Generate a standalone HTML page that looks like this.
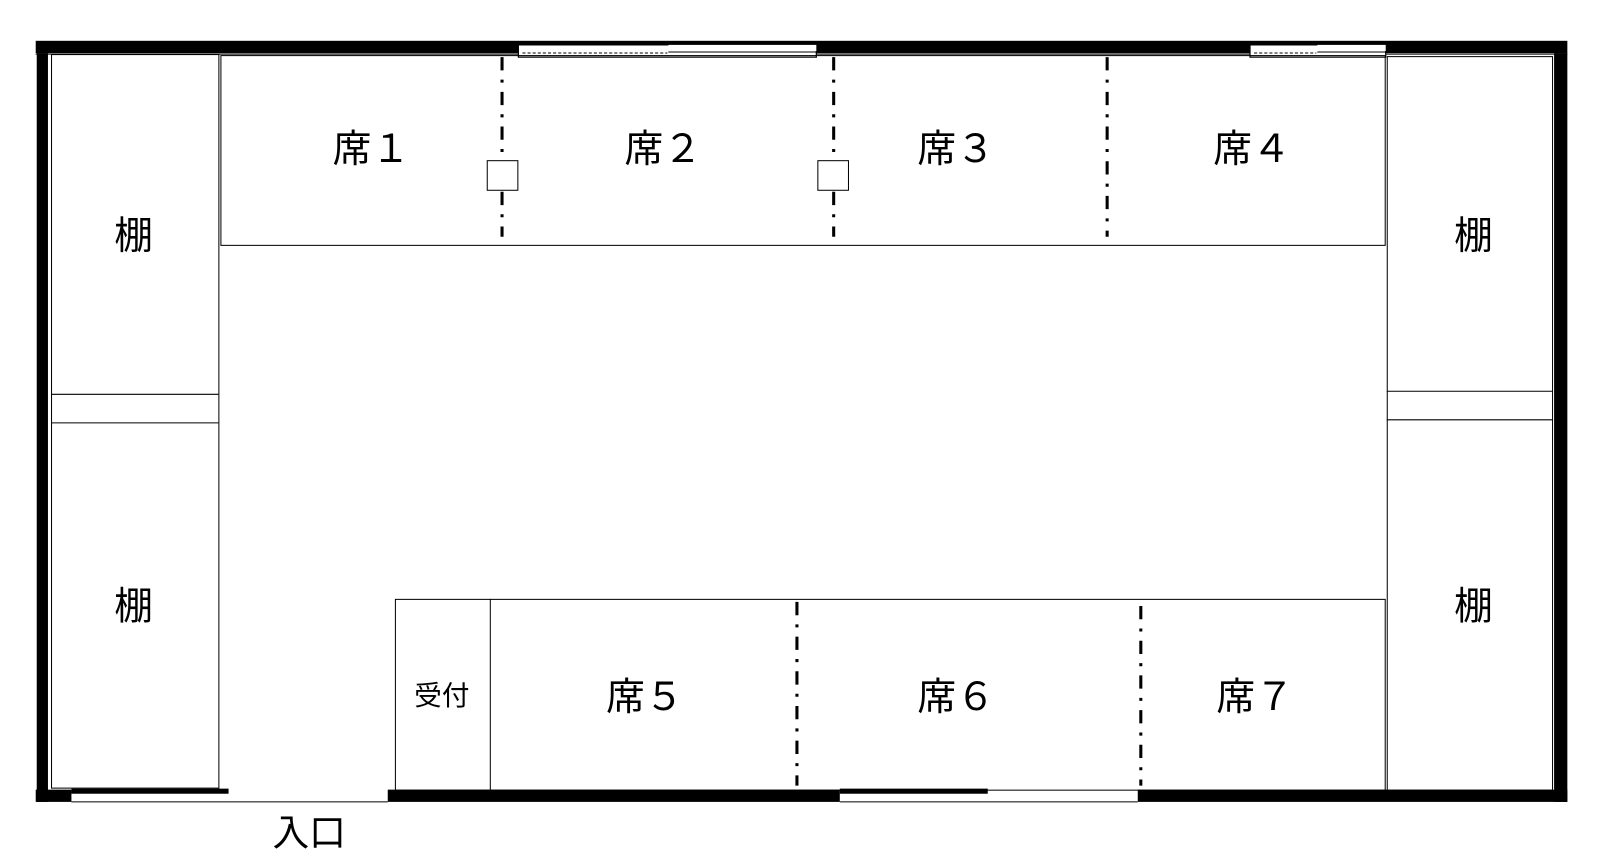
<!DOCTYPE html>
<html><head><meta charset="utf-8"><style>
html,body{margin:0;padding:0;background:#fff;}
svg{display:block;}
text{font-family:"Liberation Sans","Noto Sans CJK JP",sans-serif;fill:#000;}
</style></head><body>
<svg width="1600" height="858" viewBox="0 0 1568 841" preserveAspectRatio="none" xmlns="http://www.w3.org/2000/svg">
<rect width="1568" height="841" fill="#fff"/>
<rect x="35" y="40" width="1501" height="12" fill="#000"/>
<line x1="35" y1="53" x2="1536" y2="53" stroke="#000" stroke-width="1"/>
<rect x="508" y="44" width="292" height="12" fill="#fff" stroke="#000" stroke-width="1.2"/>
<rect x="655" y="44" width="145" height="6" fill="#fff"/>
<line x1="655" y1="51" x2="800" y2="51" stroke="#000" stroke-width="1"/>
<line x1="512" y1="52" x2="654" y2="52" stroke="#000" stroke-width="1" stroke-dasharray="3,2"/>
<rect x="1225" y="44" width="133" height="12" fill="#fff" stroke="#000" stroke-width="1.2"/>
<rect x="1291" y="44" width="67" height="6" fill="#fff"/>
<line x1="1291" y1="51" x2="1358" y2="51" stroke="#000" stroke-width="1"/>
<line x1="1229" y1="52" x2="1290" y2="52" stroke="#000" stroke-width="1" stroke-dasharray="3,2"/>
<rect x="36" y="52" width="11" height="734" fill="#000"/>
<rect x="1523" y="52" width="13" height="734" fill="#000"/>
<rect x="35" y="774" width="35" height="12" fill="#000"/>
<rect x="70" y="773" width="154" height="5" fill="#000"/>
<line x1="70" y1="786" x2="380" y2="786" stroke="#000" stroke-width="1"/>
<rect x="380" y="774" width="443" height="12" fill="#000"/>
<rect x="823" y="773" width="145" height="5" fill="#000"/>
<line x1="823" y1="786" x2="1115" y2="786" stroke="#000" stroke-width="1"/>
<rect x="1115" y="774" width="421" height="12" fill="#000"/>
<g fill="none" stroke="#000" stroke-width="1">
<rect x="50.5" y="53.5" width="164" height="719"/>
<line x1="50" y1="386.5" x2="214" y2="386.5"/>
<line x1="50" y1="414.5" x2="214" y2="414.5"/>
<rect x="1359.5" y="55.5" width="162" height="719"/>
<line x1="1359" y1="383.5" x2="1522" y2="383.5"/>
<line x1="1359" y1="411.5" x2="1522" y2="411.5"/>
<rect x="216.5" y="54.5" width="1141" height="186"/>
<rect x="387.5" y="587.5" width="970" height="187"/>
<line x1="480.5" y1="587" x2="480.5" y2="774"/>
<rect x="477.5" y="157.5" width="30" height="29" fill="#fff"/>
<rect x="801.5" y="157.5" width="30" height="29" fill="#fff"/>
</g>
<g stroke="#000" stroke-width="3" stroke-dasharray="13,9,3,9">
<line x1="492" y1="56" x2="492" y2="156"/>
<line x1="492" y1="188" x2="492" y2="232"/>
<line x1="817" y1="56" x2="817" y2="156"/>
<line x1="817" y1="188" x2="817" y2="232"/>
<line x1="1085" y1="56" x2="1085" y2="232"/>
<line x1="781" y1="590" x2="781" y2="770"/>
<line x1="1118" y1="594" x2="1118" y2="770"/>
</g>
<g font-size="38" text-anchor="middle" style='font-family:"Noto Sans CJK JP",sans-serif'>
<text x="364" y="159">席１</text>
<text x="650" y="159">席２</text>
<text x="937" y="159">席３</text>
<text x="1227" y="159">席４</text>
<text x="632" y="696">席５</text>
<text x="937" y="696">席６</text>
<text x="1230" y="696">席７</text>
<text x="131" y="244">棚</text>
<text x="131" y="607">棚</text>
<text x="1444" y="244">棚</text>
<text x="1444" y="607">棚</text>
<text x="303" y="829" font-size="36">入口</text>
<text x="433" y="691" font-size="27">受付</text>
</g>
</svg>
</body></html>
